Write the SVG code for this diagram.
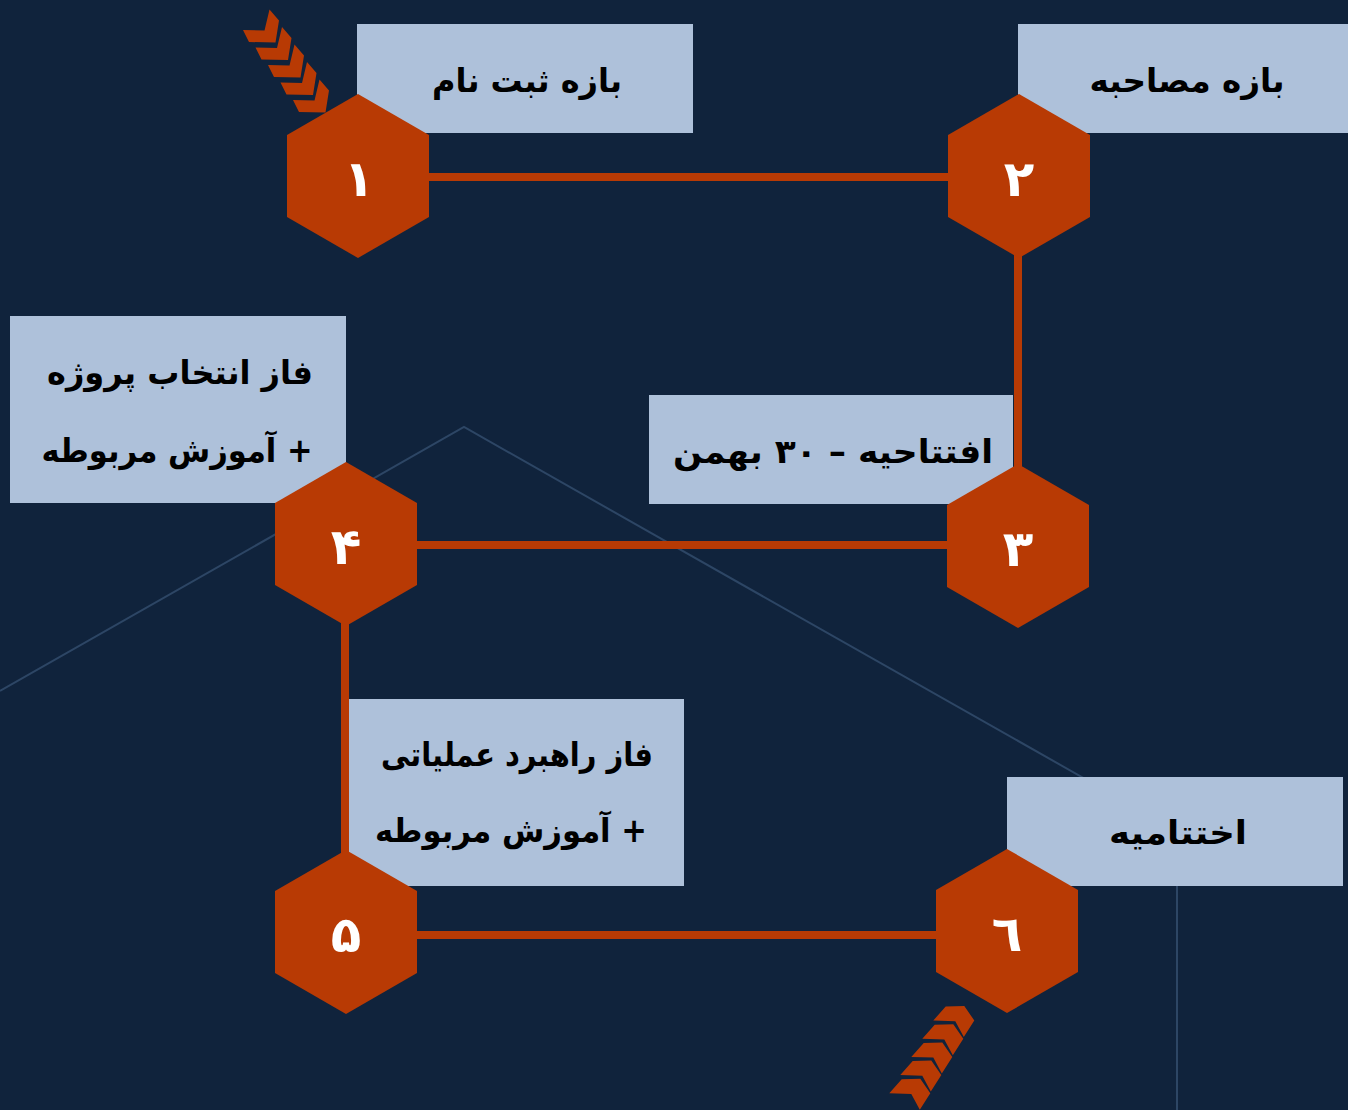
<svg xmlns="http://www.w3.org/2000/svg" width="1348" height="1110" viewBox="0 0 1348 1110">
<style>
.bg{fill:#10233c}
.deco{fill:none;stroke:#2d4665;stroke-width:2}
.box{fill:#aec1da}
.hex{fill:#b83a04}
.conn{stroke:#b83a04;stroke-width:8;fill:none}
.chev{fill:#b83a04}
.lbl{font-family:"DejaVu Sans",sans-serif;font-weight:bold;font-size:33px;fill:#000;text-anchor:middle;direction:rtl}
.num{font-family:"DejaVu Sans",sans-serif;font-weight:bold;font-size:50px;fill:#fff;text-anchor:middle}
</style>
<defs>
<polygon id="hx" points="0,-82 71,-41 71,41 0,82 -71,41 -71,-41"/>
<polygon id="chA" points="0,0 21.5,0.5 26.5,-20.5 36,-9.5 32.5,12.5 6,12"/>
<polygon id="chB" points="0,0 12.4,-14 31,-14.5 41,0 30.5,16.5 22,0.7"/>
</defs>
<rect class="bg" x="0" y="0" width="1348" height="1110"/>
<polyline class="deco" points="0,691 464,427 1177,831 1177,1110"/>
<g id="connectors">
<line class="conn" x1="358" y1="177" x2="1019" y2="177"/>
<line class="conn" x1="1018" y1="176" x2="1018" y2="546"/>
<line class="conn" x1="346" y1="545" x2="1018" y2="545"/>
<line class="conn" x1="345" y1="544" x2="345" y2="932"/>
<line class="conn" x1="346" y1="935" x2="1007" y2="935"/>
</g>
<g id="node1">
<rect class="box" x="357" y="24" width="336" height="109"/>
<use href="#hx" class="hex" x="358" y="176"/>
<text class="lbl" x="527" y="92" textLength="190" lengthAdjust="spacingAndGlyphs">بازه ثبت نام</text>
<text class="num" x="359" y="196">۱</text>
</g>
<g id="node2">
<rect class="box" x="1018" y="24" width="336" height="109"/>
<use href="#hx" class="hex" x="1019" y="176"/>
<text class="lbl" x="1187" y="92" textLength="195" lengthAdjust="spacingAndGlyphs">بازه مصاحبه</text>
<text class="num" x="1019" y="196">۲</text>
</g>
<g id="node3">
<rect class="box" x="649" y="395" width="364" height="109"/>
<use href="#hx" class="hex" x="1018" y="546"/>
<text class="lbl" x="833" y="463" textLength="320" lengthAdjust="spacingAndGlyphs">افتتاحیه – ۳۰ بهمن</text>
<text class="num" x="1018" y="566">۳</text>
</g>
<g id="node4">
<rect class="box" x="10" y="316" width="336" height="187"/>
<use href="#hx" class="hex" x="346" y="544"/>
<text class="lbl" x="180" y="384" textLength="266" lengthAdjust="spacingAndGlyphs">فاز انتخاب پروژه</text>
<text class="lbl" x="177" y="462" textLength="271" lengthAdjust="spacingAndGlyphs">+ آموزش مربوطه</text>
<text class="num" x="346" y="564">۴</text>
</g>
<g id="node5">
<rect class="box" x="349" y="699" width="335" height="187"/>
<use href="#hx" class="hex" x="346" y="932"/>
<text class="lbl" x="517" y="766" textLength="272" lengthAdjust="spacingAndGlyphs">فاز راهبرد عملیاتی</text>
<text class="lbl" x="511" y="842" textLength="272" lengthAdjust="spacingAndGlyphs">+ آموزش مربوطه</text>
<text class="num" x="346" y="952">۵</text>
</g>
<g id="node6">
<rect class="box" x="1007" y="777" width="336" height="109"/>
<use href="#hx" class="hex" x="1007" y="931"/>
<text class="lbl" x="1178" y="844" textLength="138" lengthAdjust="spacingAndGlyphs">اختتامیه</text>
<text class="num" x="1007" y="951">٦</text>
</g>
<g id="chevrons-top">
<use href="#chA" class="chev" x="243" y="30"/>
<use href="#chA" class="chev" x="255.5" y="47.5"/>
<use href="#chA" class="chev" x="268" y="65"/>
<use href="#chA" class="chev" x="280.5" y="82.5"/>
<use href="#chA" class="chev" x="293" y="100"/>
</g>
<g id="chevrons-bottom">
<use href="#chB" class="chev" x="933.3" y="1020.5"/>
<use href="#chB" class="chev" x="922.3" y="1038.7"/>
<use href="#chB" class="chev" x="911.3" y="1056.9"/>
<use href="#chB" class="chev" x="900.3" y="1075.1"/>
<use href="#chB" class="chev" x="889.3" y="1093.3"/>
</g>
</svg>
